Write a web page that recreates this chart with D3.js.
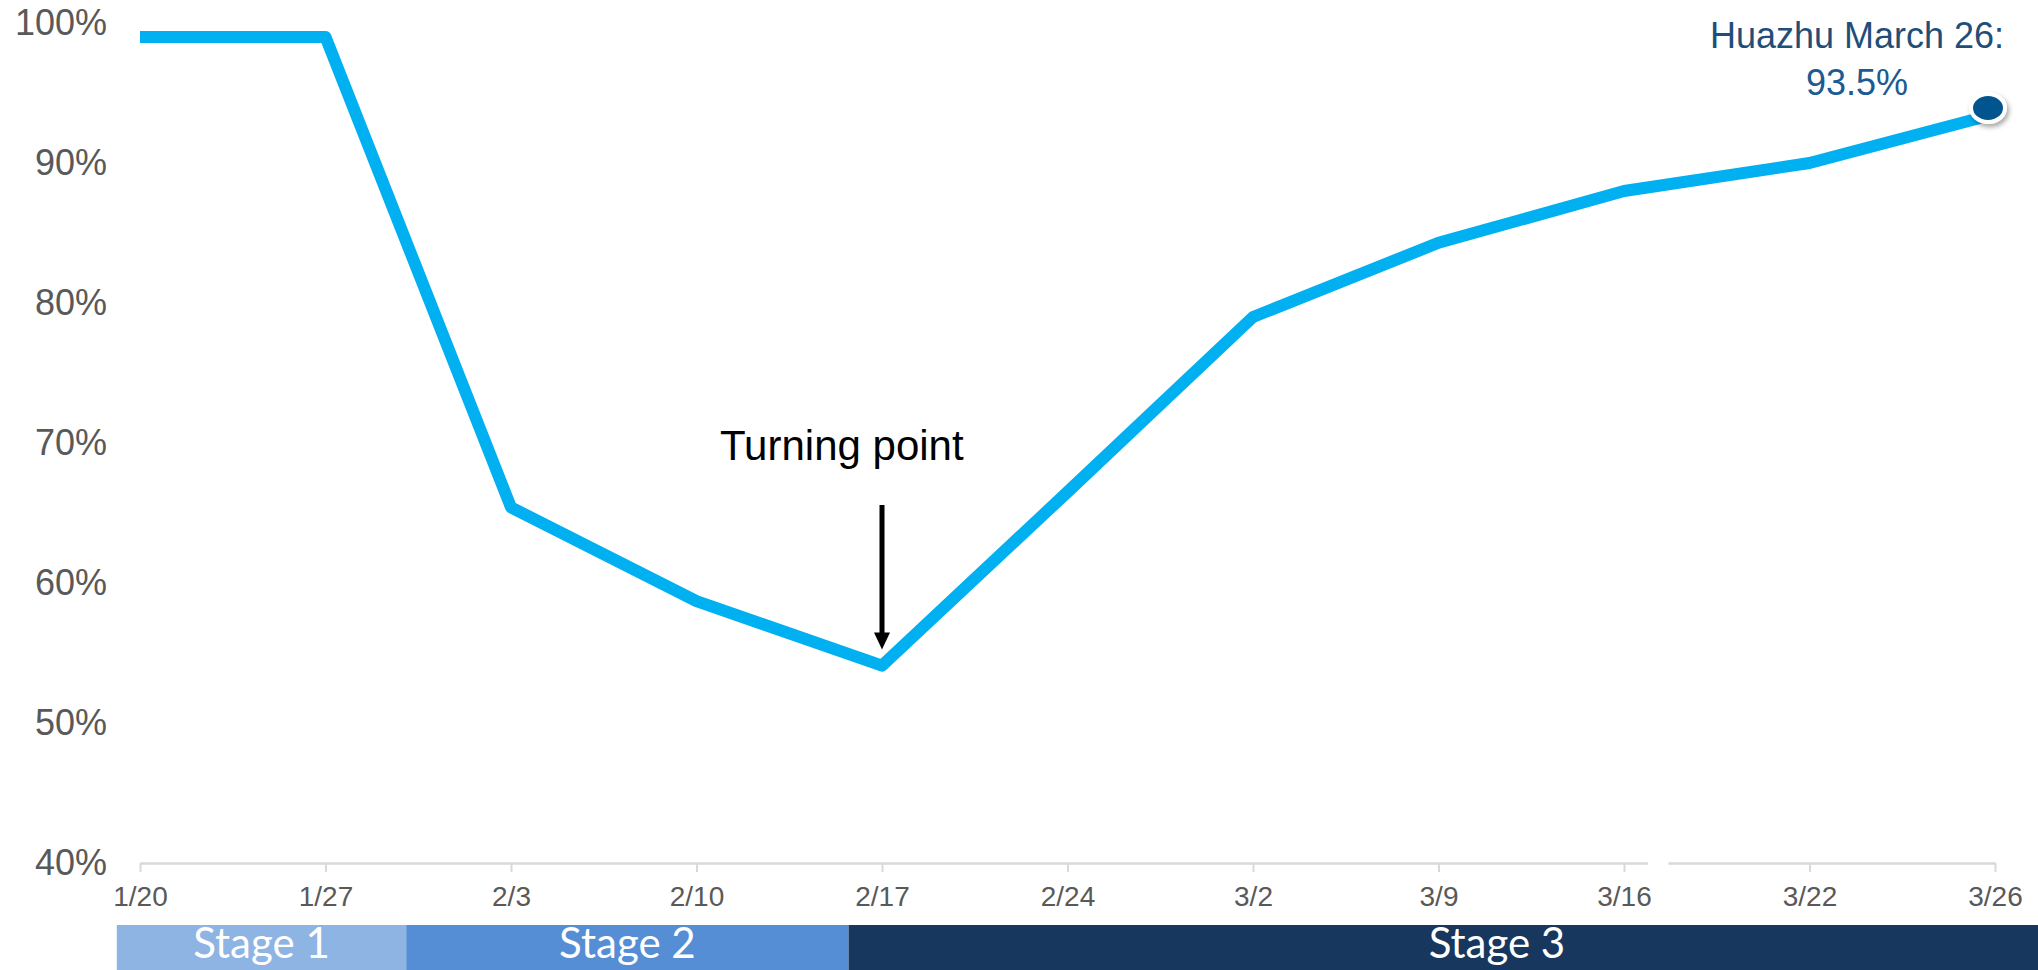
<!DOCTYPE html>
<html>
<head>
<meta charset="utf-8">
<script src="https://cdn.jsdelivr.net/npm/d3@7"></script>
<style>
  html, body { margin: 0; padding: 0; background: #ffffff; }
  svg { display: block; }
</style>
</head>
<body>
<svg id="chart" width="2038" height="970"></svg>
<script>
// Weekly dates on the category axis
const dates = ["1/20", "1/27", "2/3", "2/10", "2/17", "2/24", "3/2", "3/9", "3/16", "3/22", "3/26"];
// Recovery rate (%) for each date
const recovery = [99.0, 99.0, 65.4, 58.7, 54.1, 66.5, 79.0, 84.3, 88.0, 90.0, 93.5];
// Y axis tick values (%)
const yTicks = [40, 50, 60, 70, 80, 90, 100];
// Stage bands along the date axis, in category-index units
const stageNames = ["Stage 1", "Stage 2", "Stage 3"];
const stageStart = [-0.125, 1.435, 3.82];
const stageEnd = [1.435, 3.82, 10.81];
const stageColors = ["#8EB4E3", "#558ED5", "#17375E"];
// Annotations
const lastLabel = ["Huazhu March 26:", "93.5%"];
const turningLabel = "Turning point";
const turningIndex = 4;

const svg = d3.select("#chart");
const W = 2038, H = 970;

const x = d3.scalePoint().domain(dates).range([140, 1995]);
const xi = d3.scaleLinear().domain([0, dates.length - 1]).range([140, 1995]);
const y = d3.scaleLinear().domain([40, 100]).range([863, 23]);

const defs = svg.append("defs");
const shadow = defs.append("filter").attr("id", "dotShadow")
  .attr("x", "-50%").attr("y", "-50%").attr("width", "200%").attr("height", "200%");
shadow.append("feDropShadow").attr("dx", 2).attr("dy", 3).attr("stdDeviation", 2.5)
  .attr("flood-color", "#000").attr("flood-opacity", 0.35);

// X axis
const xAxis = svg.append("g")
  .attr("transform", `translate(0,${y(40)})`)
  .call(d3.axisBottom(x).tickSize(9).tickPadding(14).tickSizeOuter(0));
xAxis.select(".domain").attr("stroke", "#D9D9D9").attr("stroke-width", 2.5);
xAxis.selectAll(".tick line").attr("stroke", "#D9D9D9").attr("stroke-width", 2);
xAxis.selectAll(".tick text")
  .attr("fill", "#595959")
  .style("font-family", "'Liberation Sans', Arial, sans-serif")
  .style("font-size", "28px");

// axis break between 3/16 and 3/22
const gapL = xi(8.13), gapR = xi(8.24);
svg.append("rect")
  .attr("x", gapL).attr("y", y(40) - 4)
  .attr("width", gapR - gapL).attr("height", 8)
  .attr("fill", "#ffffff");

// Y axis labels
const yAxis = svg.append("g")
  .attr("transform", "translate(107,0)")
  .call(d3.axisLeft(y).tickValues(yTicks).tickSize(0).tickPadding(0).tickFormat(d => d + "%"));
yAxis.select(".domain").remove();
yAxis.selectAll(".tick text")
  .attr("fill", "#595959")
  .style("font-family", "'Liberation Sans', Arial, sans-serif")
  .style("font-size", "36px");

// Stage bands
const stages = svg.append("g");
stageNames.forEach((name, i) => {
  const x0 = xi(stageStart[i]), x1 = xi(stageEnd[i]);
  stages.append("rect")
    .attr("x", x0).attr("y", 925)
    .attr("width", x1 - x0).attr("height", H - 925)
    .attr("fill", stageColors[i]);
  stages.append("text")
    .attr("x", (x0 + x1) / 2).attr("y", 958)
    .attr("text-anchor", "middle")
    .attr("fill", "#ffffff")
    .style("font-family", "Lato, 'Open Sans', sans-serif")
    .style("font-size", "42px")
    .text(name);
});

// Recovery line
const line = d3.line()
  .x((d, i) => x(dates[i]))
  .y(d => y(d));
svg.append("path")
  .datum(recovery)
  .attr("d", line)
  .attr("fill", "none")
  .attr("stroke", "#00B0F0")
  .attr("stroke-width", 12)
  .attr("stroke-linejoin", "round");

// End point marker
const lastI = recovery.length - 1;
svg.append("ellipse")
  .attr("cx", x(dates[lastI]) - 7).attr("cy", y(recovery[lastI]) - 6)
  .attr("rx", 17).attr("ry", 14)
  .attr("fill", "#00558F")
  .attr("stroke", "#ffffff")
  .attr("stroke-width", 4)
  .attr("filter", "url(#dotShadow)");

// End point label
const lbl = svg.append("text")
  .attr("text-anchor", "middle")
  .style("font-family", "'Liberation Sans', Arial, sans-serif")
  .style("font-size", "36px");
lbl.append("tspan").attr("x", 1857).attr("y", 48).attr("fill", "#1F4E79").text(lastLabel[0]);
lbl.append("tspan").attr("x", 1857).attr("y", 95).attr("fill", "#1B5A93").text(lastLabel[1]);

// Turning point annotation
const tx = x(dates[turningIndex]);
const ty = y(recovery[turningIndex]);
svg.append("text")
  .attr("x", tx - 162).attr("y", 460)
  .attr("fill", "#000000")
  .style("font-family", "'Liberation Sans', Arial, sans-serif")
  .style("font-size", "42px")
  .text(turningLabel);
svg.append("line")
  .attr("x1", tx).attr("x2", tx)
  .attr("y1", 505).attr("y2", ty - 30)
  .attr("stroke", "#000").attr("stroke-width", 5);
svg.append("path")
  .attr("d", `M${tx - 8},${ty - 33} L${tx + 8},${ty - 33} L${tx},${ty - 16} Z`)
  .attr("fill", "#000");
</script>
</body>
</html>
